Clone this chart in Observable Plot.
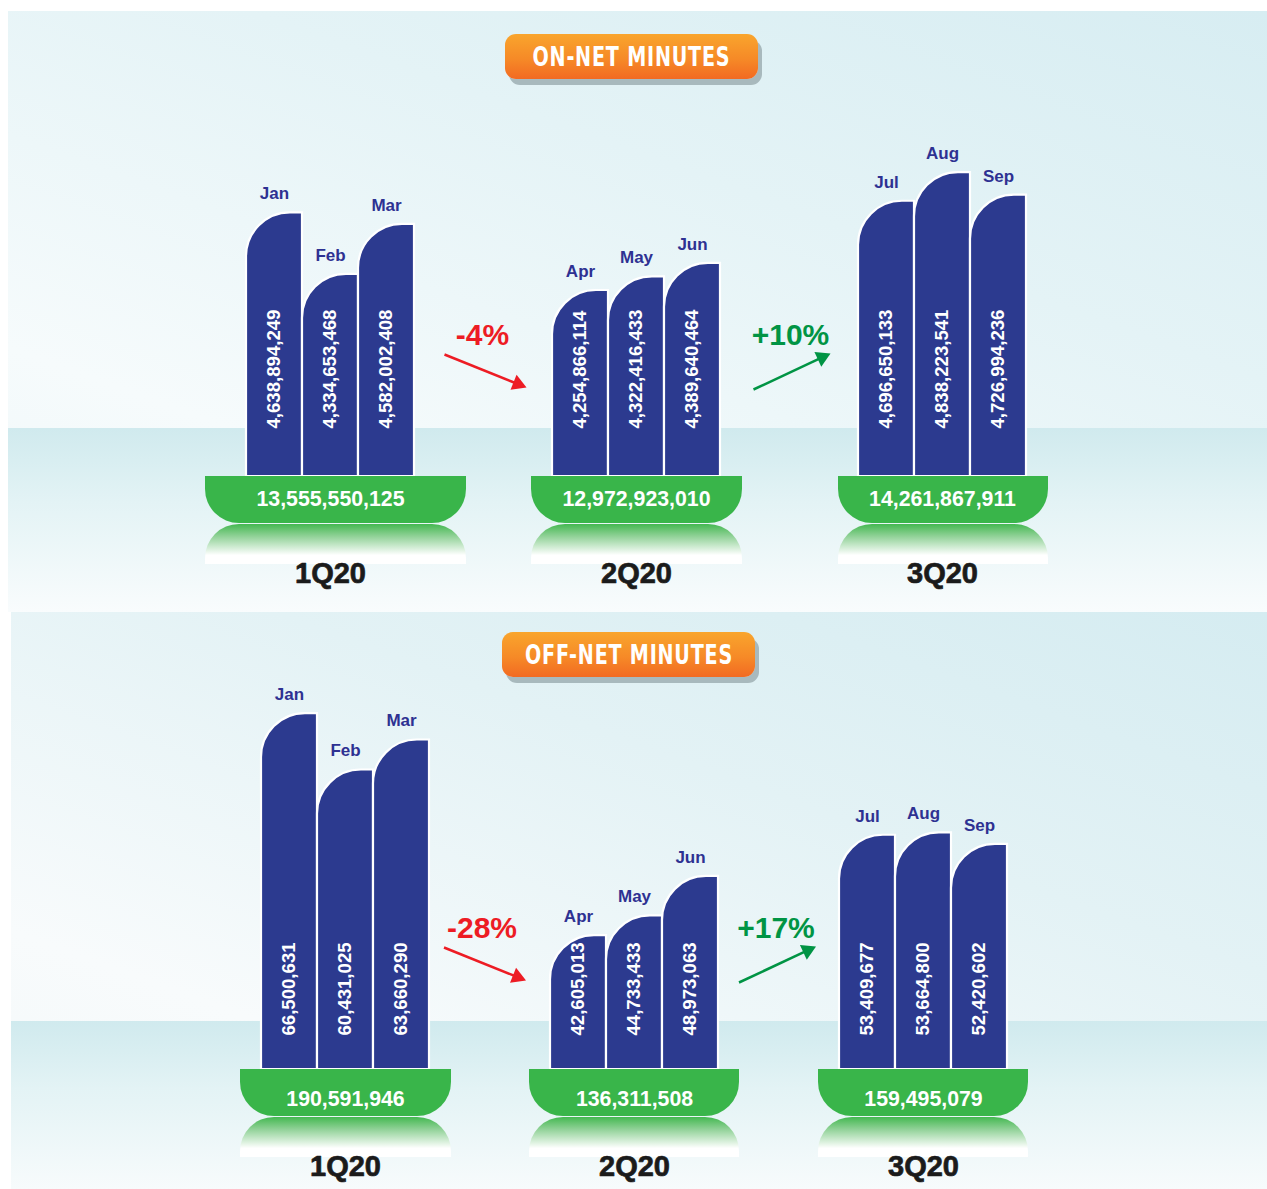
<!DOCTYPE html>
<html>
<head>
<meta charset="utf-8">
<script src="https://cdn.jsdelivr.net/npm/d3@7"></script>
<script src="https://cdn.jsdelivr.net/npm/@observablehq/plot@0.6"></script>
<style>
html, body { margin: 0; padding: 0; background: #ffffff; }
#page { position: relative; width: 1267px; height: 1189px; overflow: hidden; font-family: "Liberation Sans", Arial, sans-serif; }
.panel { position: absolute; }
#p1 { left: 8px; top: 11px; width: 1259px; height: 601px;
  background:
    linear-gradient(to bottom, #d0eaee 0%, #e3f3f5 40%, #f9fcfd 100%) 0 417px / 100% 184px no-repeat,
    linear-gradient(200deg, #d7edf2 0%, #e4f3f6 35%, #f6fbfc 75%, #eef7f9 100%);
}
#p2 { left: 11px; top: 612px; width: 1256px; height: 577px;
  background:
    linear-gradient(to bottom, #d0eaee 0%, #e3f3f5 40%, #f7fbfc 100%) 0 409px / 100% 168px no-repeat,
    linear-gradient(200deg, #d5ecf1 0%, #e3f2f5 35%, #f8fbfc 75%, #f3f8f9 100%);
}
.panel svg { position: absolute; left: 0; top: 0; }
.badge { position: absolute; width: 253px; height: 45px; border-radius: 11px;
  background: linear-gradient(to bottom, #f9a52d 0%, #f68a27 55%, #f26a22 100%);
  box-shadow: 4px 6px 0 #a8b9bd; display: flex; align-items: center; justify-content: center; z-index: 2; }
.badge span { display: inline-block; white-space: nowrap; color: #ffffff; font-weight: bold; font-size: 27px;
  letter-spacing: 1px;
  font-family: "DejaVu Sans Condensed", "Liberation Sans Narrow", "Roboto Condensed", "Liberation Sans", sans-serif;
  transform-origin: center center; }
</style>
</head>
<body>
<div id="page">
  <div class="panel" id="p1"><div class="badge" style="left:497px; top:23px;"><span data-w="198">ON-NET MINUTES</span></div></div>
  <div class="panel" id="p2"><div class="badge" style="left:491px; top:20px;"><span data-w="208">OFF-NET MINUTES</span></div></div>
</div>
<script>
// ---------- data ----------
const months = ["Jan", "Feb", "Mar", "Apr", "May", "Jun", "Jul", "Aug", "Sep"];
const quarters = ["1Q20", "2Q20", "3Q20"];
const onNetMinutes = [4638894249, 4334653468, 4582002408, 4254866114, 4322416433, 4389640464, 4696650133, 4838223541, 4726994236];
const onNetTotals = [13555550125, 12972923010, 14261867911];
const onNetChanges = ["-4%", "+10%"];
const offNetMinutes = [66500631, 60431025, 63660290, 42605013, 44733433, 48973063, 53409677, 53664800, 52420602];
const offNetTotals = [190591946, 136311508, 159495079];
const offNetChanges = ["-28%", "+17%"];

const fmt = d3.format(",");
const NAVY = "#2c3a8f", LABEL = "#2e3192", GREEN = "#39b54a", RED = "#ed1c24", UP = "#009444";
const FONT = "Liberation Sans, Arial, sans-serif";

function chart(values, totals, changes, cfg) {
  const {width, height, xRange, yDomain, yRange, pillExt, chgShift, valueDy, totalDy, gradId} = cfg;
  const unit = (xRange[1] - xRange[0]) / 2;                       // px per quarter step
  const pxPerVal = (yRange[0] - yRange[1]) / (yDomain[1] - yDomain[0]);
  const v0 = yDomain[0];
  const barPx = 56;
  const px = (p) => p / unit;             // pixel offset -> x units
  const py = (p) => -p / pxPerVal;        // pixel offset (down +) -> y units

  const bars = values.map((v, i) => ({month: months[i], q: Math.floor(i / 3), k: i % 3, value: v}));
  const cx = (d) => d.q + px((d.k - 1) * barPx);
  const qs = quarters.map((label, q) => ({label, q, total: totals[q]}));
  const chg = changes.map((label, i) => ({label, x: i + 0.5 + px(chgShift[i]), dir: label.startsWith("-") ? -1 : 1}));

  const geom = (d) => {
    const s = d.dir < 0 ? [-38, -122] : [-37, -87];
    const t = d.dir < 0 ? [44, -89] : [40, -123];
    const L = Math.hypot(t[0] - s[0], t[1] - s[1]);
    const ux = (t[0] - s[0]) / L, uy = (t[1] - s[1]) / L;
    const hc = [t[0] - ux * 9.3, t[1] - uy * 9.3];
    const ang = Math.atan2(uy, ux) * 180 / Math.PI + 90;
    return {s, hc, ang};
  };

  const defs = () => {
    const g = document.createElementNS("http://www.w3.org/2000/svg", "defs");
    g.innerHTML = `<linearGradient id="${gradId}" x1="0" y1="0" x2="0" y2="1">
      <stop offset="0" stop-color="#44b851"/>
      <stop offset="0.3" stop-color="#8fd196"/>
      <stop offset="0.78" stop-color="#ffffff"/>
      <stop offset="1" stop-color="#ffffff"/></linearGradient>`;
    return g;
  };
  const pL = (d) => d.q + px(pillExt[d.q][0]);
  const pR = (d) => d.q + px(pillExt[d.q][1]);

  return Plot.plot({
    width, height,
    style: {background: "transparent", overflow: "visible", fontFamily: FONT},
    x: {domain: [0, 2], range: xRange, axis: null},
    y: {domain: yDomain, range: yRange, axis: null},
    color: {type: "identity"},
    marks: [
      defs,
      Plot.rect(qs, {x1: pL, x2: pR, y1: v0, y2: v0,
        insetTop: 48, insetBottom: -88, fill: `url(#${gradId})`, rx1y1: 34, rx2y1: 34}),
      Plot.rect(bars, {x1: (d) => cx(d) - px(barPx / 2), x2: (d) => cx(d) + px(barPx / 2), y1: v0, y2: "value",
        fill: NAVY, stroke: "white", strokeWidth: 2.2, rx1y2: 44}),
      Plot.rect(qs, {x1: pL, x2: pR, y1: v0, y2: v0,
        insetBottom: -47, fill: GREEN, rx1y2: 34, rx2y2: 34}),
      Plot.text(bars, {x: cx, y: v0, text: (d) => fmt(d.value), rotate: -90, textAnchor: "start", dy: valueDy,
        fill: "white", fontSize: 18.6, fontWeight: "bold", fontFamily: FONT}),
      Plot.text(bars, {x: cx, y: "value", text: "month", dy: -19, fill: LABEL, fontSize: 17, fontWeight: "bold", fontFamily: FONT}),
      Plot.text(qs, {x: "q", y: v0, text: (d) => fmt(d.total), dy: totalDy, fill: "white", fontSize: 21.3, fontWeight: "bold", fontFamily: FONT}),
      Plot.text(qs, {x: "q", y: v0, text: "label", dy: 97, fill: "#1b1b1b", stroke: "#1b1b1b", strokeWidth: 0.7,
        fontSize: 29, fontWeight: "bold", fontFamily: FONT}),
      Plot.text(chg, {x: "x", y: v0, text: "label", dy: -141, fill: (d) => d.dir < 0 ? RED : UP,
        fontSize: 30, fontWeight: "bold", fontFamily: FONT}),
      Plot.link(chg, {x1: (d) => d.x + px(geom(d).s[0]), y1: (d) => v0 + py(geom(d).s[1]),
        x2: (d) => d.x + px(geom(d).hc[0]), y2: (d) => v0 + py(geom(d).hc[1]),
        stroke: (d) => d.dir < 0 ? RED : UP, strokeWidth: 2.5}),
      Plot.dot(chg, {x: (d) => d.x + px(geom(d).hc[0]), y: (d) => v0 + py(geom(d).hc[1]),
        symbol: "triangle", r: 6, rotate: (d) => geom(d).ang, fill: (d) => d.dir < 0 ? RED : UP, stroke: null})
    ]
  });
}

const onNetChart = chart(onNetMinutes, onNetTotals, onNetChanges, {
  width: 1259, height: 601, xRange: [322, 934], yDomain: [3.334e9, 5.0e9], yRange: [465, 128.5],
  pillExt: [[-125, 136], [-105, 106], [-104, 106]], chgShift: [-1, 1],
  valueDy: -48, totalDy: 23, gradId: "reflOn"
});
const offNetChart = chart(offNetMinutes, offNetTotals, offNetChanges, {
  width: 1256, height: 577, xRange: [334, 912], yDomain: [28.2e6, 72e6], yRange: [457, 50],
  pillExt: [[-105, 106], [-105, 105], [-105, 105]], chgShift: [-8, -3],
  valueDy: -34, totalDy: 30, gradId: "reflOff"
});
document.getElementById("p1").prepend(onNetChart);
document.getElementById("p2").prepend(offNetChart);

function fitBadges() {
  document.querySelectorAll(".badge span").forEach((s) => {
    s.style.transform = "none";
    const w = s.getBoundingClientRect().width;
    const target = +s.dataset.w;
    if (w > 0) s.style.transform = `scaleX(${target / w})`;
  });
}
fitBadges();
if (document.fonts && document.fonts.ready) document.fonts.ready.then(fitBadges);
</script>
</body>
</html>
